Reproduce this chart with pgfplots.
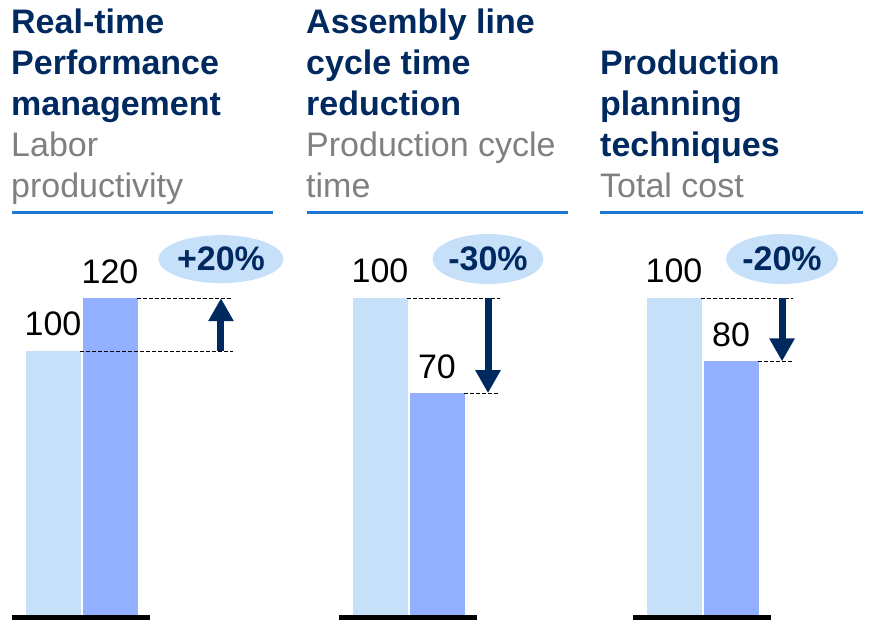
\documentclass[border=0pt]{standalone}
\usepackage{pgfplots}
\pgfplotsset{compat=1.18}
\usepackage{fontspec}
\setmainfont{Liberation Sans}
\usetikzlibrary{arrows.meta}
\definecolor{navy}{RGB}{0,41,96}
\definecolor{lightbar}{RGB}{199,224,250}
\definecolor{midbar}{RGB}{146,176,255}
\definecolor{rulecol}{RGB}{31,119,212}
\definecolor{subgray}{RGB}{128,128,128}
\newcommand{\fs}{\fontsize{34}{41}\selectfont}
\pgfplotsset{panel/.style={hide axis, scale only axis, clip=false, x=57pt,
  xmin=-0.72, xmax=1.70, ymin=0, anchor=south west},
  barA/.style={ybar, bar width=55pt, bar shift=0pt, fill=lightbar, draw=none},
  barB/.style={ybar, bar width=55pt, bar shift=0pt, fill=midbar, draw=none}}
\tikzset{dsh/.style={black, line width=0.8pt, dash pattern=on 4pt off 2pt},
  arr/.style={navy, line width=7pt, -{Triangle[width=24pt,length=23pt]}},
  val/.style={anchor=base, font=\fs, inner sep=0pt},
  pct/.style={text=navy, font=\fs\bfseries, inner sep=0pt},
  ttl/.style={anchor=base west, inner sep=0pt, font=\fs\bfseries, text=navy},
  sub/.style={anchor=base west, inner sep=0pt, font=\fs, text=subgray}}
\begin{document}
\begin{tikzpicture}
\path[use as bounding box] (0pt,0pt) rectangle (871pt,624pt);
% titles
\node[ttl] at (11pt,590pt) {Real-time};
\node[ttl] at (11pt,549pt) {Performance};
\node[ttl] at (11pt,508pt) {management};
\node[sub] at (11pt,467pt) {Labor};
\node[sub] at (11pt,426pt) {productivity};
\node[ttl] at (306pt,590pt) {Assembly line};
\node[ttl] at (306pt,549pt) {cycle time};
\node[ttl] at (306pt,508pt) {reduction};
\node[sub] at (306pt,467pt) {Production cycle};
\node[sub] at (306pt,426pt) {time};
\node[ttl] at (600pt,549pt) {Production};
\node[ttl] at (600pt,508pt) {planning};
\node[ttl] at (600pt,467pt) {techniques};
\node[sub] at (600pt,426pt) {Total cost};
\fill[rulecol] (12pt,409.5pt) rectangle (273pt,412.5pt);
\fill[rulecol] (307pt,409.5pt) rectangle (568pt,412.5pt);
\fill[rulecol] (600pt,409.5pt) rectangle (863pt,412.5pt);
% panel 1
\begin{axis}[panel, at={(11.96pt,9pt)}, y=2.64pt, ymax=120]
\addplot[barA] coordinates {(0,100)};
\addplot[barB] coordinates {(1,120)};
\fill[black] (axis cs:-0.72,0) rectangle ([yshift=-5pt]axis cs:1.70,0);
\node[val] at ([yshift=15pt]axis cs:0,100) {100};
\node[val] at ([yshift=15pt]axis cs:1,120) {120};
\draw[dsh] (axis cs:1.482,120) -- (axis cs:3.158,120);
\draw[dsh] (axis cs:0.482,100) -- (axis cs:3.158,100);
\draw[arr] (axis cs:2.947,100) -- (axis cs:2.947,120);
\fill[lightbar] (axis cs:2.947,134.8) ellipse [x radius=62.5pt, y radius=24pt];
\node[pct] at (axis cs:2.947,134.8) {+20\%};
\end{axis}
% panel 2
\begin{axis}[panel, at={(338.96pt,9pt)}, y=3.17pt, ymax=100]
\addplot[barA] coordinates {(0,100)};
\addplot[barB] coordinates {(1,70)};
\fill[black] (axis cs:-0.72,0) rectangle ([yshift=-5pt]axis cs:1.70,0);
\node[val] at ([yshift=15pt]axis cs:0,100) {100};
\node[val] at ([yshift=15pt]axis cs:1,70) {70};
\draw[dsh] (axis cs:0.482,100) -- (axis cs:2.105,100);
\draw[dsh] (axis cs:1.482,70) -- (axis cs:2.105,70);
\draw[arr] (axis cs:1.895,100) -- (axis cs:1.895,70);
\fill[lightbar] (axis cs:1.895,112.3) ellipse [x radius=55.5pt, y radius=25pt];
\node[pct] at (axis cs:1.895,112.3) {-30\%};
\end{axis}
% panel 3
\begin{axis}[panel, at={(632.96pt,9pt)}, y=3.17pt, ymax=100]
\addplot[barA] coordinates {(0,100)};
\addplot[barB] coordinates {(1,80)};
\fill[black] (axis cs:-0.72,0) rectangle ([yshift=-5pt]axis cs:1.70,0);
\node[val] at ([yshift=15pt]axis cs:0,100) {100};
\node[val] at ([yshift=15pt]axis cs:1,80) {80};
\draw[dsh] (axis cs:0.482,100) -- (axis cs:2.088,100);
\draw[dsh] (axis cs:1.482,80) -- (axis cs:2.088,80);
\draw[arr] (axis cs:1.895,100) -- (axis cs:1.895,80);
\fill[lightbar] (axis cs:1.895,112.3) ellipse [x radius=56pt, y radius=25pt];
\node[pct] at (axis cs:1.895,112.3) {-20\%};
\end{axis}
\end{tikzpicture}
\end{document}
